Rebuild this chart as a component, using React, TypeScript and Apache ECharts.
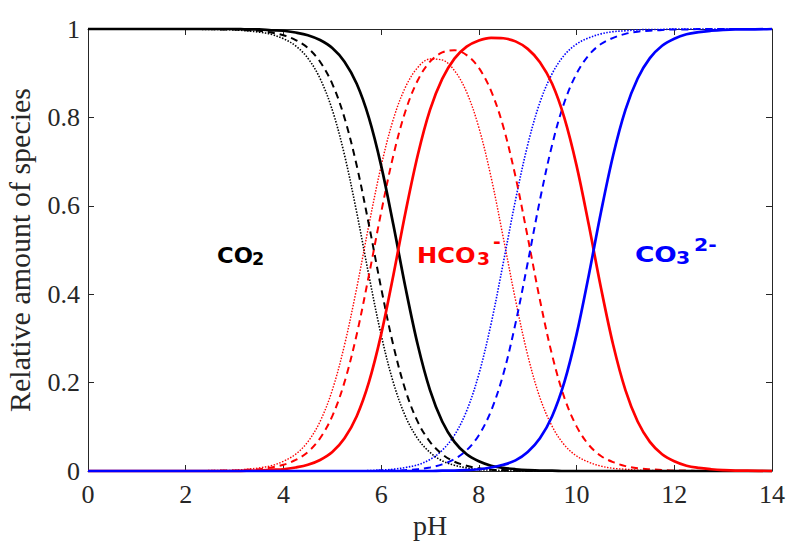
import React, { useEffect, useRef } from "react";
import * as echarts from "echarts";

// pH sample points
const pH = [0, 1, 2, 2.5, 2.75, 3, 3.25, 3.5, 3.75, 4, 4.25, 4.5, 4.75, 5, 5.25, 5.5, 5.75, 6, 6.25, 6.5, 6.75, 7, 7.25, 7.5, 7.75, 8, 8.25, 8.5, 8.75, 9, 9.25, 9.5, 9.75, 10, 10.25, 10.5, 10.75, 11, 11.25, 11.5, 11.75, 12, 12.25, 12.5, 12.75, 13, 13.25, 13.5, 14];

// solid set
const solidCO2 = [1, 1, 1, 1, 1, 1, 0.999, 0.999, 0.997, 0.996, 0.992, 0.986, 0.975, 0.957, 0.926, 0.876, 0.799, 0.691, 0.557, 0.414, 0.285, 0.183, 0.112, 0.066, 0.038, 0.022, 0.012, 0.007, 0.004, 0.002, 0.001, 0.001, 0, 0, 0, 0, 0, 0, 0, 0, 0, 0, 0, 0, 0, 0, 0, 0, 0];
const solidHCO3 = [0, 0, 0, 0, 0, 0, 0.001, 0.001, 0.003, 0.004, 0.008, 0.014, 0.025, 0.043, 0.074, 0.124, 0.201, 0.309, 0.443, 0.586, 0.715, 0.817, 0.887, 0.933, 0.96, 0.974, 0.98, 0.979, 0.972, 0.955, 0.925, 0.876, 0.799, 0.691, 0.557, 0.414, 0.285, 0.183, 0.112, 0.066, 0.038, 0.022, 0.012, 0.007, 0.004, 0.002, 0.001, 0.001, 0];
const solidCO3 = [0, 0, 0, 0, 0, 0, 0, 0, 0, 0, 0, 0, 0, 0, 0, 0, 0, 0, 0, 0, 0, 0, 0.001, 0.001, 0.002, 0.004, 0.008, 0.014, 0.024, 0.043, 0.074, 0.124, 0.201, 0.309, 0.443, 0.586, 0.715, 0.817, 0.888, 0.934, 0.962, 0.978, 0.988, 0.993, 0.996, 0.998, 0.999, 0.999, 1];

// dashed set
const dashCO2 = [1, 1, 1, 1, 0.999, 0.999, 0.997, 0.996, 0.992, 0.986, 0.975, 0.957, 0.926, 0.876, 0.799, 0.691, 0.557, 0.414, 0.284, 0.182, 0.111, 0.066, 0.038, 0.021, 0.012, 0.006, 0.003, 0.002, 0.001, 0, 0, 0, 0, 0, 0, 0, 0, 0, 0, 0, 0, 0, 0, 0, 0, 0, 0, 0, 0];
const dashHCO3 = [0, 0, 0, 0, 0.001, 0.001, 0.003, 0.004, 0.008, 0.014, 0.025, 0.043, 0.074, 0.124, 0.201, 0.309, 0.443, 0.585, 0.714, 0.815, 0.884, 0.926, 0.947, 0.952, 0.941, 0.912, 0.86, 0.779, 0.666, 0.529, 0.387, 0.262, 0.166, 0.101, 0.059, 0.034, 0.02, 0.011, 0.006, 0.004, 0.002, 0.001, 0.001, 0, 0, 0, 0, 0, 0];
const dashCO3 = [0, 0, 0, 0, 0, 0, 0, 0, 0, 0, 0, 0, 0, 0, 0, 0, 0, 0.001, 0.001, 0.002, 0.004, 0.008, 0.015, 0.027, 0.047, 0.081, 0.136, 0.219, 0.334, 0.471, 0.613, 0.738, 0.834, 0.899, 0.941, 0.966, 0.98, 0.989, 0.994, 0.996, 0.998, 0.999, 0.999, 1, 1, 1, 1, 1, 1];

// dotted set
const dotCO2 = [1, 1, 1, 0.999, 0.999, 0.998, 0.996, 0.993, 0.988, 0.978, 0.962, 0.934, 0.888, 0.817, 0.715, 0.585, 0.442, 0.308, 0.2, 0.123, 0.073, 0.042, 0.023, 0.013, 0.007, 0.003, 0.002, 0.001, 0, 0, 0, 0, 0, 0, 0, 0, 0, 0, 0, 0, 0, 0, 0, 0, 0, 0, 0, 0, 0];
const dotHCO3 = [0, 0, 0, 0.001, 0.001, 0.002, 0.004, 0.007, 0.012, 0.022, 0.038, 0.066, 0.112, 0.183, 0.285, 0.414, 0.557, 0.69, 0.796, 0.869, 0.913, 0.932, 0.93, 0.906, 0.857, 0.777, 0.665, 0.528, 0.387, 0.262, 0.166, 0.101, 0.059, 0.034, 0.02, 0.011, 0.006, 0.004, 0.002, 0.001, 0.001, 0, 0, 0, 0, 0, 0, 0, 0];
const dotCO3 = [0, 0, 0, 0, 0, 0, 0, 0, 0, 0, 0, 0, 0, 0, 0, 0, 0.001, 0.002, 0.004, 0.008, 0.014, 0.026, 0.047, 0.081, 0.136, 0.219, 0.333, 0.471, 0.613, 0.738, 0.834, 0.899, 0.941, 0.966, 0.98, 0.989, 0.994, 0.996, 0.998, 0.999, 0.999, 1, 1, 1, 1, 1, 1, 1, 1];

const xTicks = [0, 2, 4, 6, 8, 10, 12, 14];
const yTicks = [0, 0.2, 0.4, 0.6, 0.8, 1];

const BLACK = "#000000";
const RED = "#ff0000";
const BLUE = "#0000ff";
const AXIS = "#262626";
const SERIF = "'Liberation Serif', 'DejaVu Serif', serif";
const SANS = "'DejaVu Sans', Verdana, sans-serif";

function pairs(ys: number[]) {
  return pH.map((x, i) => [x, ys[i]]);
}

function line(name: string, ys: number[], color: string, width: number, type: any) {
  return {
    name,
    type: "line",
    data: pairs(ys),
    xAxisIndex: 0,
    yAxisIndex: 0,
    showSymbol: false,
    symbol: "none",
    smooth: 0.35,
    clip: false,
    lineStyle: { color, width, type },
    emphasis: { disabled: true },
  };
}

export default function App() {
  const ref = useRef<HTMLDivElement>(null);

  useEffect(() => {
    if (!ref.current) return;
    const chart = echarts.init(ref.current, undefined, { renderer: "svg" });

    const tickLabel = { fontFamily: SERIF, fontSize: 26, color: AXIS };
    const txt = (text: string, x: number, y: number, size: number, color: string, sx: number) => ({
      type: "text",
      x,
      y,
      scaleX: sx,
      style: {
        text,
        x: 0,
        y: 0,
        fill: color,
        font: `bold ${size}px ${SANS}`,
        align: "left",
        verticalAlign: "middle",
      },
      z: 100,
    });

    const option: any = {
      animation: false,
      backgroundColor: "#ffffff",
      grid: { left: 88, right: 16, top: 29, bottom: 72, containLabel: false, outerBoundsMode: "none" },
      xAxis: [
        {
          type: "value",
          min: 0,
          max: 14,
          interval: 2,
          position: "bottom",
          axisLine: { show: true, onZero: false, lineStyle: { color: AXIS, width: 1 } },
          axisTick: { show: true, inside: true, length: 6, lineStyle: { color: AXIS } },
          axisLabel: { ...tickLabel, margin: 10, formatter: (v: number) => (xTicks.includes(v) ? String(v) : "") },
          splitLine: { show: false },
          name: "pH",
          nameLocation: "middle",
          nameGap: 40,
          nameTextStyle: { fontFamily: SERIF, fontSize: 28, color: AXIS },
        },
        {
          type: "value",
          min: 0,
          max: 14,
          interval: 2,
          position: "top",
          axisLine: { show: true, onZero: false, lineStyle: { color: AXIS, width: 1 } },
          axisTick: { show: true, inside: true, length: 6, lineStyle: { color: AXIS } },
          axisLabel: { show: false },
          splitLine: { show: false },
        },
      ],
      yAxis: [
        {
          type: "value",
          min: 0,
          max: 1,
          interval: 0.2,
          position: "left",
          axisLine: { show: true, onZero: false, lineStyle: { color: AXIS, width: 1 } },
          axisTick: { show: true, inside: true, length: 6, lineStyle: { color: AXIS } },
          axisLabel: {
            ...tickLabel,
            margin: 8,
            formatter: (v: number) => {
              const t = yTicks.find((k) => Math.abs(k - v) < 1e-9);
              return t === undefined ? "" : t === 0 || t === 1 ? String(t) : t.toFixed(1);
            },
          },
          splitLine: { show: false },
          name: "Relative amount of species",
          nameLocation: "middle",
          nameGap: 54,
          nameTextStyle: { fontFamily: SERIF, fontSize: 30, color: AXIS },
        },
        {
          type: "value",
          min: 0,
          max: 1,
          interval: 0.2,
          position: "right",
          axisLine: { show: true, onZero: false, lineStyle: { color: AXIS, width: 1 } },
          axisTick: { show: true, inside: true, length: 6, lineStyle: { color: AXIS } },
          axisLabel: { show: false },
          splitLine: { show: false },
        },
      ],
      series: [
        line("CO2 dotted", dotCO2, BLACK, 1.6, [1.5, 1.5]),
        line("HCO3 dotted", dotHCO3, RED, 1.4, [1.5, 1.5]),
        line("CO3 dotted", dotCO3, BLUE, 1.6, [1.5, 1.5]),
        line("CO2 dashed", dashCO2, BLACK, 2, [7, 5]),
        line("HCO3 dashed", dashHCO3, RED, 2, [7, 5]),
        line("CO3 dashed", dashCO3, BLUE, 2, [7, 5]),
        line("CO2", solidCO2, BLACK, 2.7, "solid"),
        line("HCO3", solidHCO3, RED, 2.7, "solid"),
        line("CO3", solidCO3, BLUE, 2.7, "solid"),
      ],
      graphic: [
        txt("CO", 217, 255, 22, BLACK, 1.03),
        txt("2", 252, 259, 17, BLACK, 1.03),
        txt("HCO", 417, 255, 22, RED, 1.1),
        txt("3", 477, 259, 17, RED, 1.1),
        txt("-", 493, 242, 17, RED, 1.1),
        txt("CO", 635, 254, 22, BLUE, 1.2),
        txt("3", 676, 258, 17, BLUE, 1.2),
        txt("2-", 694, 245, 17, BLUE, 1.2),
      ],
    };

    chart.setOption(option);
    return () => chart.dispose();
  }, []);

  return (
    <div
      ref={ref}
      style={{ position: "fixed", left: 0, top: 0, width: 788, height: 543, background: "#fff" }}
    />
  );
}
